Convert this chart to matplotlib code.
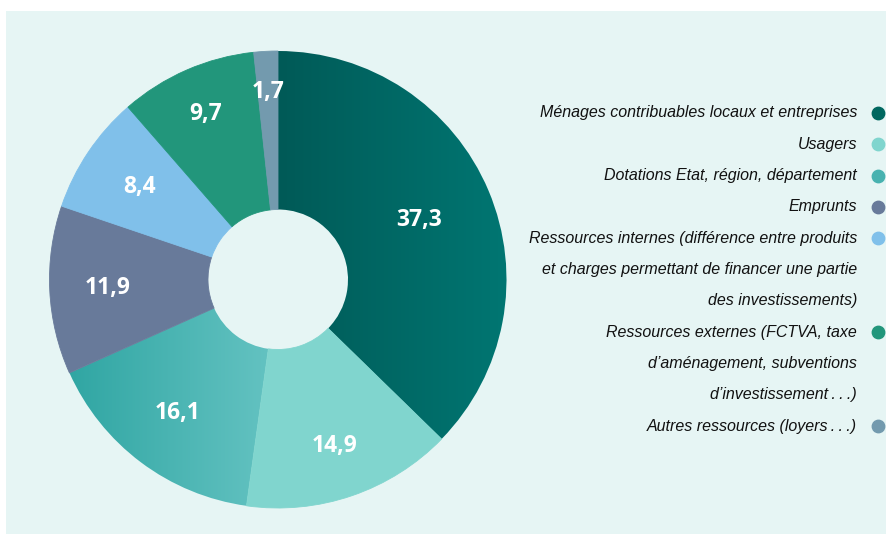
import matplotlib
matplotlib.use('Agg')
import matplotlib.pyplot as plt
import numpy as np
from matplotlib.patches import Rectangle
from matplotlib.colors import LinearSegmentedColormap

# Data
categories = [
    "Ménages contribuables locaux et entreprises",
    "Usagers",
    "Dotations Etat, région, département",
    "Emprunts",
    "Ressources internes (différence entre produits\net charges permettant de financer une partie\ndes investissements)",
    "Ressources externes (FCTVA, taxe\nd\u2019aménagement, subventions\nd\u2019investissement\u2009.\u2009.\u2009.)",
    "Autres ressources (loyers\u2009.\u2009.\u2009.)",
]
values = [37.3, 14.9, 16.1, 11.9, 8.4, 9.7, 1.7]
colors = ['#00675f', '#80d5ce', '#48b2b0', '#687a9a', '#80c0ea', '#22967b', '#739aae']
# gradient slices (left colour, right colour)
gradients = {0: ('#005a57', '#007672'), 2: ('#30a6a3', '#63c2c1')}

W, H = 886, 534
fig = plt.figure(figsize=(W / 100, H / 100), dpi=100, facecolor='white')
ax = fig.add_axes([0, 0, 1, 1])
ax.axis('off')

bg = '#e6f5f4'
ax.add_patch(Rectangle((6, 0), W - 6, H - 11, facecolor=bg, edgecolor='none', zorder=0))

cx, cy, R = 278, H - 279.5, 228.5
hole = 70 / R

wedges, _, autotexts = ax.pie(
    values, colors=colors, startangle=90, counterclock=False,
    center=(cx, cy), radius=R, frame=True,
    autopct=lambda p: f'{p:.1f}'.replace('.', ','), pctdistance=0.74,
    wedgeprops=dict(width=R * (1 - hole), linewidth=0.6),
    textprops=dict(color='white', fontsize=16.5, fontweight='bold', family='Open Sans'))

for w, c in zip(wedges, colors):
    w.set_edgecolor(c)
    w.set_zorder(2)

# label radii tweaks to match the reference placement
label_r = [0.67, 0.77, 0.73, 0.745, 0.73, 0.79, 0.82]
for t, w, rr in zip(autotexts, wedges, label_r):
    ang = np.deg2rad((w.theta1 + w.theta2) / 2)
    t.set_position((cx + rr * R * np.cos(ang), cy + rr * R * np.sin(ang)))
    t.set_zorder(5)

for i, (c0, c1) in gradients.items():
    w = wedges[i]
    w.set_facecolor('none')
    w.set_edgecolor('none')
    ext = w.get_path().get_extents()
    cmap = LinearSegmentedColormap.from_list(f'g{i}', [c0, c1])
    im = ax.imshow(np.linspace(0, 1, 256).reshape(1, -1), cmap=cmap, aspect='auto',
                   extent=[ext.x0, ext.x1, ext.y0, ext.y1], zorder=1.5,
                   interpolation='bilinear')
    im.set_clip_path(w)

# legend on the right, one text per line
x_text, x_dot = 857, 878
y0, step = 113, 31.3
line = 0
for lab, c in zip(categories, colors):
    ax.scatter([x_dot], [H - (y0 + line * step)], s=80, color=c, zorder=3)
    for part in lab.split('\n'):
        ax.text(x_text, H - (y0 + line * step), part, ha='right', va='center',
                fontsize=11.5, style='italic', family='Liberation Sans',
                color='#111111')
        line += 1

ax.set_xlim(0, W)
ax.set_ylim(0, H)
ax.set_aspect('equal')
ax.axis('off')
fig.savefig('out.png', dpi=100, facecolor='white')
